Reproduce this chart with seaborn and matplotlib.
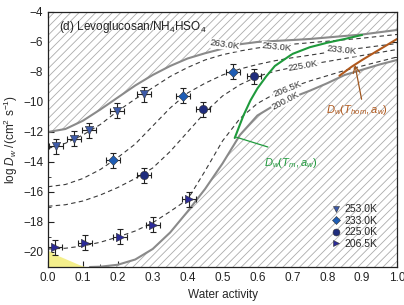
import numpy as np
import pandas as pd
import matplotlib
matplotlib.use('Agg')
import matplotlib.pyplot as plt
from matplotlib.lines import Line2D
import seaborn as sns

# Datos
aw = [0.0, 0.05, 0.1, 0.15, 0.2, 0.25, 0.3, 0.35, 0.4, 0.45, 0.5,
      0.55, 0.6, 0.65, 0.7, 0.75, 0.8, 0.85, 0.9, 0.95, 1.0]

# curvas grises (límites de la región sombreada)
d263 = [-12.0, -11.8, -11.25, -10.5, -9.7, -8.9, -8.2, -7.6, -7.1, -6.75, -6.45,
        -6.15, -6.0, -5.93, -5.87, -5.8, -5.7, -5.6, -5.5, -5.35, -5.2]
aw200 = [0.12, 0.15, 0.2, 0.25, 0.3, 0.35, 0.4, 0.45, 0.5, 0.55, 0.6,
         0.65, 0.7, 0.75, 0.8, 0.85, 0.9, 0.95, 1.0]
d200 = [-21.0, -20.98, -20.85, -20.5, -19.8, -18.7, -17.3, -15.8, -14.1, -12.2, -10.9,
        -10.2, -9.7, -9.25, -8.75, -8.2, -7.85, -7.5, -7.2]

# curvas discontinuas
d253 = [-13.1, -12.75, -12.2, -11.5, -10.6, -9.8, -9.05, -8.3, -7.7, -7.2, -6.85,
        -6.6, -6.4, -6.25, -6.15, -6.05, -5.95, -5.85, -5.75, -5.62, -5.5]
d233 = [-15.65, -15.5, -15.1, -14.5, -13.7, -12.8, -11.6, -10.4, -9.4, -8.75, -8.2,
        -7.8, -7.5, -7.25, -7.05, -6.88, -6.7, -6.55, -6.4, -6.25, -6.1]
d225 = [-16.95, -16.85, -16.6, -16.2, -15.7, -15.1, -14.4, -13.3, -12.0, -10.7, -9.6,
        -8.85, -8.3, -7.95, -7.7, -7.5, -7.3, -7.1, -6.9, -6.7, -6.5]
d206 = [-19.8, -19.75, -19.6, -19.35, -19.0, -18.6, -18.05, -17.3, -16.5, -14.6, -12.6,
        -11.1, -10.1, -9.45, -9.0, -8.6, -8.25, -7.9, -7.6, -7.3, -7.0]

# D_w(T_m, a_w) y D_w(T_hom, a_w)
aw_tm = [0.535, 0.56, 0.58, 0.6, 0.625, 0.65, 0.7, 0.75, 0.8, 0.85, 0.9]
d_tm = [-12.4, -10.9, -9.9, -9.1, -8.3, -7.6, -6.8, -6.35, -6.05, -5.8, -5.53]
aw_th = [0.835, 0.87, 0.9, 0.95, 1.0]
d_th = [-8.25, -7.65, -7.2, -6.5, -5.8]

# puntos experimentales
x253 = [0.023, 0.075, 0.118, 0.197, 0.275]
y253 = [-12.95, -12.45, -11.9, -10.6, -9.5]
x233 = [0.187, 0.386, 0.53]
y233 = [-13.87, -9.6, -8.0]
x225 = [0.275, 0.445, 0.59]
y225 = [-14.87, -10.47, -8.27]
x206 = [0.02, 0.106, 0.206, 0.30, 0.405]
y206 = [-19.67, -19.4, -19.0, -18.2, -16.47]

sns.set_theme(style='ticks')
plt.rcParams['font.family'] = ['Liberation Sans', 'DejaVu Sans']
plt.rcParams['mathtext.fontset'] = 'custom'
plt.rcParams['mathtext.it'] = 'Liberation Sans:italic'
plt.rcParams['mathtext.rm'] = 'Liberation Sans'
plt.rcParams['hatch.linewidth'] = 0.6

fig = plt.figure(figsize=(4.04, 3.05), dpi=100)
ax = fig.add_axes([0.1188, 0.1246, 0.8639, 0.8361])

# regiones sombreadas
ax.fill_between(aw, d263, -4, facecolor='white', edgecolor='#ababab',
                hatch='////', linewidth=0)
ax.fill_between(aw200, d200, -21, facecolor='white', edgecolor='#ababab',
                hatch='////', linewidth=0)
ax.fill_between([0.0, 0.03, 0.06, 0.09, 0.11], [-19.9, -20.25, -20.55, -20.85, -21.0],
                -21, color='#f4ef8c', linewidth=0)

gray = '#8a8a8a'
sns.lineplot(x=aw, y=d263, ax=ax, color=gray, linewidth=1.5)
sns.lineplot(x=aw200, y=d200, ax=ax, color=gray, linewidth=1.5)
for curve in [d253, d233, d225, d206]:
    sns.lineplot(x=aw, y=curve, ax=ax, color='#3a3a3a', linewidth=0.8,
                 linestyle=(0, (4, 3)))

sns.lineplot(x=aw_tm, y=d_tm, ax=ax, color='#1f9a3c', linewidth=1.5)
sns.lineplot(x=aw_th, y=d_th, ax=ax, color='#b0581c', linewidth=1.5)

# etiquetas de temperatura sobre las curvas
lab_box = dict(facecolor='white', edgecolor='none', pad=0.2)
lab_kw = dict(fontsize=6.8, ha='center', va='center', color='#333333', bbox=lab_box)
ax.text(0.505, -6.2, '263.0K', rotation=-8, **lab_kw)
ax.text(0.655, -6.35, '253.0K', rotation=-6, **lab_kw)
ax.text(0.84, -6.55, '233.0K', rotation=-6, **lab_kw)
ax.text(0.73, -7.6, '225.0K', rotation=10, **lab_kw)
ax.text(0.685, -9.15, '206.5K', rotation=22, **lab_kw)
ax.text(0.68, -9.95, '200.0K', rotation=28, **lab_kw)

# puntos con barras de error
series = [
    (x253, y253, 'v', '#3d5aa8', '253.0K'),
    (x233, y233, 'D', '#1e5db5', '233.0K'),
    (x225, y225, 'o', '#1f2c7c', '225.0K'),
    (x206, y206, '>', '#2b2a98', '206.5K'),
]
handles = []
for xs, ys, mk, col, lab in series:
    ms = 5 if mk == 'D' else 6
    ax.errorbar(xs, ys, xerr=0.02, yerr=0.5, fmt='none', ecolor='#222222',
                elinewidth=0.8, capsize=2, capthick=0.8, zorder=4)
    sns.scatterplot(x=xs, y=ys, ax=ax, marker=mk, color=col, s=ms ** 2,
                    edgecolor='#333333', linewidth=0.4, zorder=5)
    handles.append(Line2D([], [], marker=mk, color=col, linestyle='none',
                          markersize=ms - 1, markeredgecolor='#333333',
                          markeredgewidth=0.4, label=lab))

ax.legend(handles=handles, loc='upper left', bbox_to_anchor=(0.79, -16.4),
          bbox_transform=ax.transData, frameon=False, fontsize=7.5,
          handletextpad=0.2, labelspacing=0.15, handlelength=1.2, borderpad=0.1)

# anotaciones
ax.plot([0.54, 0.63], [-12.35, -13.0], color='#1f9a3c', linewidth=0.9)
ax.text(0.62, -14.1, r'$D_w(T_m,a_w)$', fontsize=8, color='#1f9a3c',
        ha='left', va='center')
ax.annotate('', xy=(0.878, -7.35), xytext=(0.9, -10.0),
            arrowprops=dict(arrowstyle='->', color='#a0561e', linewidth=0.9))
ax.text(0.885, -10.55, r'$D_w(T_{hom},a_w)$', fontsize=8, color='#b0581c',
        ha='center', va='center')

ax.text(0.032, -5.0, r'(d) Levoglucosan/NH$_4$HSO$_4$', fontsize=8.5,
        ha='left', va='center', color='#222222')

ax.set_xlim(0, 1.0)
ax.set_ylim(-21, -4)
ax.set_xticks(np.arange(0, 1.01, 0.1))
ax.set_xticks(np.arange(0, 1.01, 0.05), minor=True)
ax.set_yticks(np.arange(-20, -3, 2))
ax.set_yticks(np.arange(-21, -3, 1), minor=True)
ax.set_xticklabels([f'{v:.1f}' for v in np.arange(0, 1.01, 0.1)])
ax.tick_params(which='both', direction='in', top=True, right=True,
               labelsize=8.5, colors='#222222')
ax.tick_params(which='major', length=4, width=0.8)
ax.tick_params(which='minor', length=2, width=0.6)
for s in ax.spines.values():
    s.set_linewidth(0.9)
    s.set_color('#222222')

ax.set_xlabel('Water activity', fontsize=8.5, labelpad=4)
ax.set_ylabel(r'log $D_w$ /(cm$^2$ s$^{-1}$)', fontsize=8.5, labelpad=2)

fig.savefig('out.png', dpi=100)
plt.close(fig)
